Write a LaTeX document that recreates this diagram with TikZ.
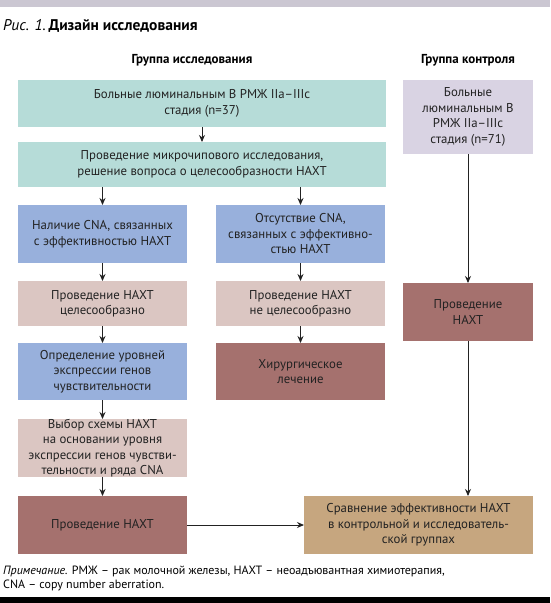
\documentclass[tikz,border=0pt]{standalone}
\usepackage{fontspec}
\setmainfont{PT Sans}
\usetikzlibrary{arrows.meta}
\definecolor{teal1}{HTML}{B6DCD8}
\definecolor{blue1}{HTML}{98B0DC}
\definecolor{pink1}{HTML}{DBC6C2}
\definecolor{dred}{HTML}{A5716E}
\definecolor{tan1}{HTML}{C6A67F}
\definecolor{lav}{HTML}{D9D3E3}
\definecolor{topbar}{HTML}{CBC7D2}
\definecolor{txt}{HTML}{222222}
\tikzset{
  box/.style={anchor=north west, inner sep=0pt, outer sep=0pt, align=center,
    text=txt, font=\fontsize{12.8}{15.5}\selectfont},
  conn/.style={draw=txt, line width=0.9pt, -{Stealth[length=7pt,width=6pt]}},
  hdr/.style={font=\bfseries\fontsize{13}{15}\selectfont, text=black, inner sep=0pt}
}
\newcommand{\bx}[7]{% name, x1,y1,x2,y2, color, text
  \node[box, fill=#6, minimum width={(#4-#2)*1pt}, minimum height={(#5-#3)*1pt}] (#1) at (#2,#3) {#7};}
\begin{document}
\begin{tikzpicture}[x=1pt,y=-1pt]
\useasboundingbox (0,0) rectangle (550,603);
\fill[white] (0,0) rectangle (550,603);
\fill[topbar] (0,0) rectangle (550,7);
\fill[black] (0,597) rectangle (550,603);
\node[anchor=west, inner sep=0pt, font=\fontsize{15.5}{17}\selectfont] (title) at (3,26) {\textit{Рис. 1.}\,\textbf{Дизайн исследования}};
\node[hdr] (h1) at (192,60) {Группа исследования};
\node[hdr] (h2) at (468,60) {Группа контроля};

\bx{b1}{18}{80}{386}{127}{teal1}{Больные люминальным В РМЖ IIa–IIIc\\стадия (n=37)}
\bx{b2}{18}{142}{386}{187}{teal1}{Проведение микрочипового исследования,\\решение вопроса о целесообразности НАХТ}
\bx{b3l}{18}{205}{187}{263}{blue1}{Наличие CNA, связанных\\с эффективностью НАХТ}
\bx{b3r}{216}{205}{385}{263}{blue1}{Отсутствие CNA,\\связанных с эффективно-\\стью НАХТ}
\bx{b4l}{18}{281}{187}{326}{pink1}{Проведение НАХТ\\целесообразно}
\bx{b4r}{216}{281}{385}{326}{pink1}{Проведение НАХТ\\не целесообразно}
\bx{b5l}{18}{343}{187}{400}{blue1}{Определение уровней\\экспрессии генов\\чувствительности}
\bx{b5r}{216}{343}{385}{400}{dred}{Хирургическое\\лечение}
\bx{b6l}{18}{419}{187}{477}{pink1}{Выбор схемы НАХТ\\на основании уровня\\экспрессии генов чувстви-\\тельности и ряда CNA}
\bx{b7l}{18}{496}{187}{554}{dred}{Проведение НАХТ}
\bx{cmp}{304}{496}{533}{554}{tan1}{Сравнение эффективности НАХТ\\в контрольной и исследователь-\\ской группах}
\bx{c1}{403}{80}{533}{154}{lav}{Больные\\люминальным В\\РМЖ IIa–IIIc\\стадия (n=71)}
\bx{c2}{403}{283}{533}{341}{dred}{Проведение\\НАХТ}

\draw[conn] (b1) -- (b2);
\draw[conn] (b3l.north |- b2.south) -- (b3l);
\draw[conn] (b3r.north |- b2.south) -- (b3r);
\draw[conn] (b3l) -- (b4l);
\draw[conn] (b4l) -- (b5l);
\draw[conn] (b5l) -- (b6l);
\draw[conn] (b6l) -- (b7l);
\draw[conn] (b3r) -- (b4r);
\draw[conn] (b4r) -- (b5r);
\draw[conn] (c1) -- (c2);
\draw[conn] (c2.south) -- (c2.south |- cmp.north);
\draw[conn] (b7l) -- (cmp);

\node[anchor=north west, inner sep=0pt, align=left, font=\fontsize{12}{13.5}\selectfont] (note) at (3,566)
  {\textit{Примечание.} РМЖ – рак молочной железы, НАХТ – неоадъювантная химиотерапия,\\CNA – copy number aberration.};
\end{tikzpicture}
\end{document}
